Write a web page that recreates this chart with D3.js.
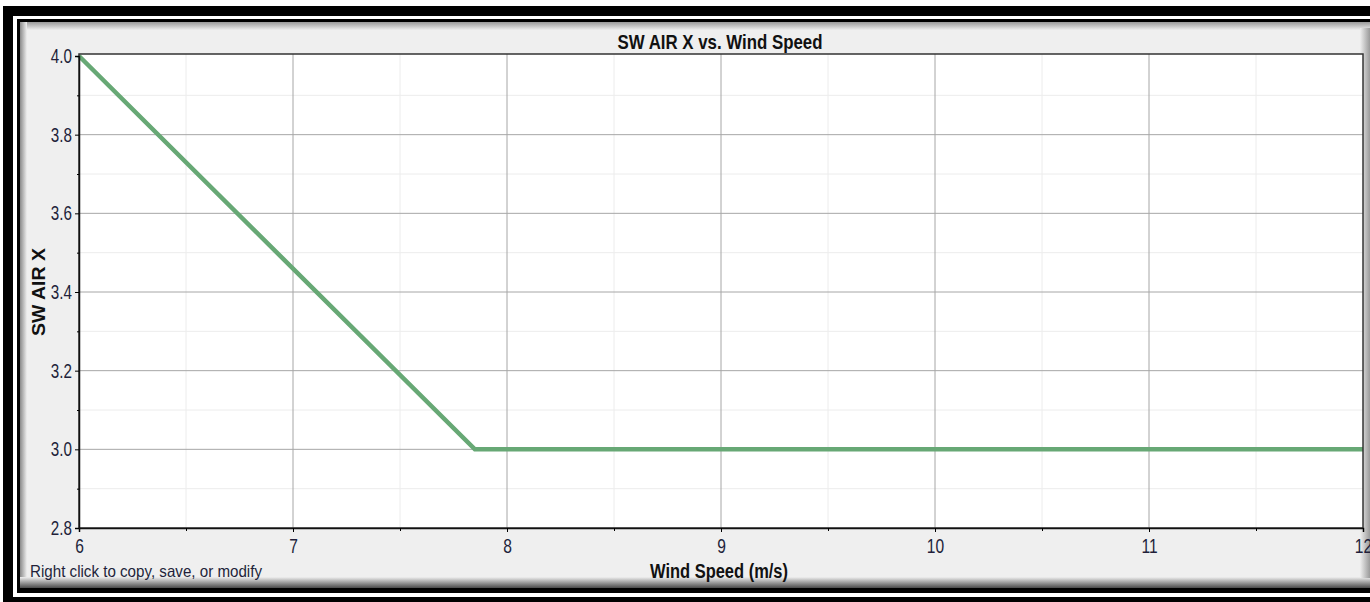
<!DOCTYPE html>
<html>
<head>
  <meta charset="UTF-8" />
  <title>SW AIR X vs. Wind Speed</title>
  <style>
    html, body { margin: 0; padding: 0; background: #fff; overflow: hidden; }
    svg { display: block; }
    svg text { font-family: "Liberation Sans", Arial, sans-serif; }
  </style>
  <script src="https://d3js.org/d3.v7.min.js"></script>
</head>
<body>
  <script>
    // data
    let windSpeed = [6, 7.85, 12],
      swAirX = [4.0, 3.0, 3.0],
      xTicks = [6, 7, 8, 9, 10, 11, 12],
      xMinor = [6.5, 7.5, 8.5, 9.5, 10.5, 11.5],
      yTicks = [2.8, 3.0, 3.2, 3.4, 3.6, 3.8, 4.0],
      yMinor = [2.9, 3.1, 3.3, 3.5, 3.7, 3.9];

    let W = 1370, H = 602,
      plot = { left: 79, right: 1363, top: 56, bottom: 528 },
      squeeze = 0.76;

    let svg = d3.select("body").append("svg")
      .attr("width", W)
      .attr("height", H);

    // the reference uses a narrow font: squeeze each text horizontally
    function narrow(sel, k) {
      sel.each(function () {
        let len = this.getComputedTextLength();
        d3.select(this)
          .attr("textLength", len * (k || squeeze))
          .attr("lengthAdjust", "spacingAndGlyphs");
      });
    }

    /* frame: black / white / black bands, then grey panel */
    svg.append("rect").attr("x", 3).attr("y", 6).attr("width", 1400).attr("height", 620).attr("fill", "#000");
    svg.append("rect").attr("x", 13).attr("y", 16).attr("width", 1400).attr("height", 581).attr("fill", "#fff");
    svg.append("rect").attr("x", 17).attr("y", 19).attr("width", 1400).attr("height", 574).attr("fill", "#000");
    svg.append("rect").attr("x", 20).attr("y", 22).attr("width", 1400).attr("height", 566).attr("fill", "#efefef");

    /* bevel shading of the panel */
    let defs = svg.append("defs");
    function grad(id, x1, y1, x2, y2, c1, c2) {
      let g = defs.append("linearGradient").attr("id", id)
        .attr("x1", x1).attr("y1", y1).attr("x2", x2).attr("y2", y2);
      g.append("stop").attr("offset", "0%").attr("stop-color", c1);
      g.append("stop").attr("offset", "100%").attr("stop-color", c2);
    }
    grad("gTop", 0, 0, 0, 1, "#9a9a9a", "#efefef");
    grad("gLeft", 0, 0, 1, 0, "#8a8a8a", "#efefef");
    grad("gBottom", 0, 0, 0, 1, "#efefef", "#4a4a4a");
    grad("gRight", 0, 0, 1, 0, "#efefef", "#9a9a9a");
    svg.append("rect").attr("x", 20).attr("y", 22).attr("width", 1400).attr("height", 8).attr("fill", "url(#gTop)");
    svg.append("rect").attr("x", 20).attr("y", 22).attr("width", 7).attr("height", 566).attr("fill", "url(#gLeft)");
    svg.append("rect").attr("x", 20).attr("y", 577).attr("width", 1400).attr("height", 11).attr("fill", "url(#gBottom)");
    svg.append("rect").attr("x", 1360).attr("y", 28).attr("width", 10).attr("height", 550).attr("fill", "url(#gRight)");

    /* scales */
    let x = d3.scaleLinear().domain([6, 12]).range([plot.left, plot.right]);
    let y = d3.scaleLinear().domain([2.8, 4.0]).range([plot.bottom, plot.top]);

    /* plot background */
    svg.append("rect")
      .attr("x", plot.left).attr("y", plot.top - 2)
      .attr("width", plot.right - plot.left).attr("height", plot.bottom - plot.top + 2)
      .attr("fill", "#fff");

    /* minor grid */
    let grid = svg.append("g");
    grid.selectAll(".vminor").data(xMinor).enter().append("line")
      .attr("x1", d => x(d)).attr("x2", d => x(d))
      .attr("y1", plot.top - 2).attr("y2", plot.bottom)
      .attr("stroke", "#ececec").attr("stroke-width", 1);
    grid.selectAll(".hminor").data(yMinor).enter().append("line")
      .attr("x1", plot.left).attr("x2", plot.right)
      .attr("y1", d => y(d)).attr("y2", d => y(d))
      .attr("stroke", "#ececec").attr("stroke-width", 1);

    /* major grid */
    grid.selectAll(".vmajor").data(xTicks.slice(1, -1)).enter().append("line")
      .attr("x1", d => x(d)).attr("x2", d => x(d))
      .attr("y1", plot.top - 2).attr("y2", plot.bottom)
      .attr("stroke", "#a6a6a6").attr("stroke-width", 1);
    grid.selectAll(".hmajor").data(yTicks.slice(1, -1)).enter().append("line")
      .attr("x1", plot.left).attr("x2", plot.right)
      .attr("y1", d => y(d)).attr("y2", d => y(d))
      .attr("stroke", "#a6a6a6").attr("stroke-width", 1);

    /* data line */
    let pts = windSpeed.map((d, i) => [d, swAirX[i]]);
    svg.append("path")
      .datum(pts)
      .attr("d", d3.line().x(d => x(d[0])).y(d => y(d[1])))
      .attr("fill", "none")
      .attr("stroke", "#67a875")
      .attr("stroke-width", 4.5);

    /* plot border */
    svg.append("rect")
      .attr("x", plot.left).attr("y", plot.top - 2)
      .attr("width", plot.right - plot.left).attr("height", plot.bottom - plot.top + 2)
      .attr("fill", "none").attr("stroke", "#333").attr("stroke-width", 1.5);

    /* axes */
    let xAxis = svg.append("g")
      .attr("transform", `translate(0,${plot.bottom})`)
      .call(d3.axisBottom(x).tickValues(xTicks).tickFormat(d3.format("d")).tickSize(4).tickPadding(6));
    xAxis.select(".domain").attr("stroke", "#111").attr("stroke-width", 1.5);
    xAxis.selectAll("text")
      .attr("font-size", 20.5).attr("fill", "#221f3a").attr("font-family", null)
      .call(narrow);
    svg.append("g")
      .attr("transform", `translate(0,${plot.bottom})`)
      .call(d3.axisBottom(x).tickValues(xMinor).tickSize(3).tickFormat(""))
      .select(".domain").remove();

    let yAxis = svg.append("g")
      .attr("transform", `translate(${plot.left},0)`)
      .call(d3.axisLeft(y).tickValues(yTicks).tickFormat(d3.format(".1f")).tickSize(4).tickPadding(3));
    yAxis.select(".domain").attr("stroke", "#111").attr("stroke-width", 1.5);
    yAxis.selectAll("text")
      .attr("font-size", 20).attr("fill", "#221f3a").attr("font-family", null)
      .call(narrow);
    svg.append("g")
      .attr("transform", `translate(${plot.left},0)`)
      .call(d3.axisLeft(y).tickValues(yMinor).tickSize(2).tickFormat(""))
      .select(".domain").remove();

    /* titles */
    svg.append("text")
      .attr("x", 720).attr("y", 49)
      .attr("text-anchor", "middle")
      .attr("font-size", 21).attr("font-weight", "bold").attr("fill", "#111")
      .text("SW AIR X vs. Wind Speed")
      .attr("textLength", 205).attr("lengthAdjust", "spacingAndGlyphs");

    svg.append("text")
      .attr("x", 719).attr("y", 578)
      .attr("text-anchor", "middle")
      .attr("font-size", 20).attr("font-weight", "bold").attr("fill", "#111")
      .text("Wind Speed (m/s)")
      .attr("textLength", 138).attr("lengthAdjust", "spacingAndGlyphs");

    svg.append("text")
      .attr("transform", "translate(45,292) rotate(-90)")
      .attr("text-anchor", "middle")
      .attr("font-size", 18).attr("font-weight", "bold").attr("fill", "#111")
      .text("SW AIR X")
      .attr("textLength", 88).attr("lengthAdjust", "spacingAndGlyphs");

    svg.append("text")
      .attr("x", 30).attr("y", 577)
      .attr("font-size", 16.5).attr("fill", "#221f3a")
      .text("Right click to copy, save, or modify")
      .attr("textLength", 232).attr("lengthAdjust", "spacingAndGlyphs");
  </script>
</body>
</html>
